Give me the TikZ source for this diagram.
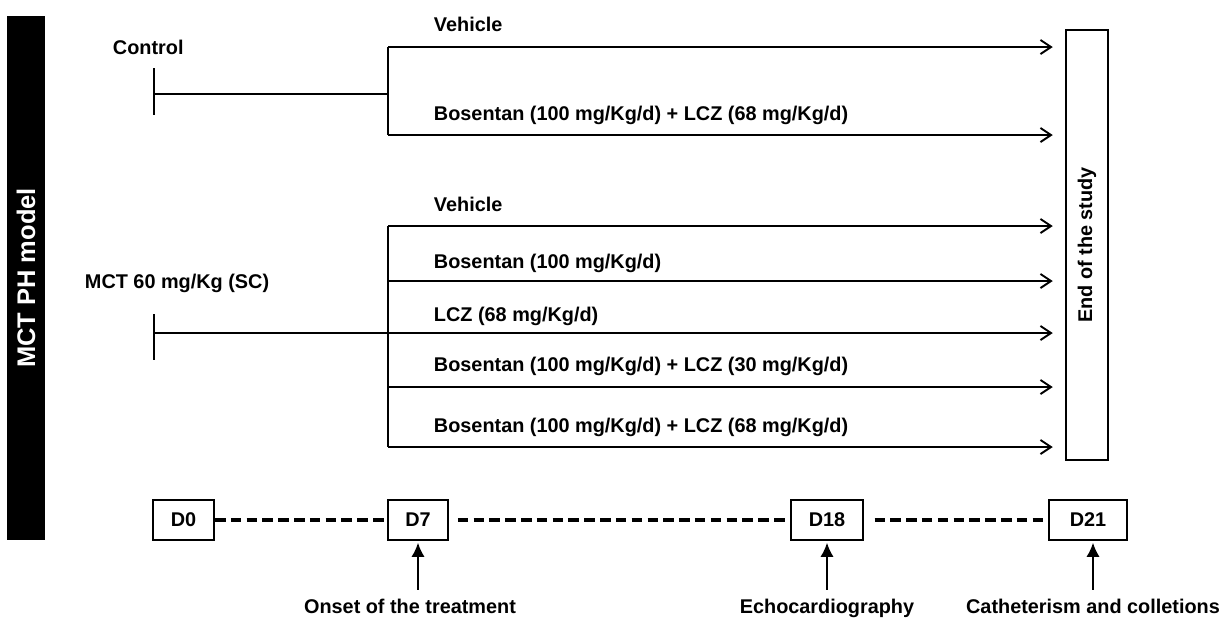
\documentclass[tikz,border=0pt]{standalone}
\usepackage{fontspec}
\setmainfont{Liberation Sans}
\usetikzlibrary{arrows.meta}
\tikzset{
  txt/.style={font=\fontsize{11.3}{13}\selectfont\bfseries,inner sep=0pt},
  lbl/.style={txt,anchor=base west},
  daybox/.style={txt,draw,line width=1.1pt,minimum height=0.8cm},
  arm/.style={line width=1.1pt,-{Straight Barb[length=6pt,width=8pt]}},
  upar/.style={line width=1.1pt,-{Latex[length=8pt,width=7.5pt]}},
  tline/.style={line width=2pt,dash pattern=on 6pt off 3pt},
}
\begin{document}
\begin{tikzpicture}[x=0.02cm,y=-0.02cm,line width=1.1pt]
\useasboundingbox (0,0) rectangle (1224,619);
% side bar and end box
\node[fill=black,text=white,rotate=90,minimum width=10.48cm,minimum height=0.76cm,inner sep=0pt,font=\fontsize{14.5}{16}\selectfont\bfseries] (model) at (26,278) {MCT PH model};
\node[txt,draw,rotate=90,minimum width=8.6cm,minimum height=0.84cm] (end) at (1087,245) {End of the study};
% control group
\node[lbl] (ctl) at (112,54) {Control};
\coordinate (c0) at (154,94);
\coordinate (c1) at (388,94);
\draw (154,68) -- (154,115);
\draw (c0) -- (c1);
\draw (388,47) -- (388,135);
\foreach \i/\y/\b/\t in {1/47/31/Vehicle,2/135/120/{Bosentan (100 mg/Kg/d) + LCZ (68 mg/Kg/d)}} {
  \coordinate (ca\i) at (388,\y);
  \draw[arm,shorten >=7pt] (ca\i) -- (ca\i -| end.north);
  \node[lbl] (cl\i) at (433,\b) {\t};
}
% MCT group
\node[lbl] (mct) at (84,288) {MCT 60 mg/Kg (SC)};
\coordinate (m0) at (154,333);
\coordinate (m1) at (388,333);
\draw (154,314) -- (154,360);
\draw (m0) -- (m1);
\draw (388,226) -- (388,447);
\foreach \i/\y/\b/\t in {1/226/211/Vehicle,2/281/268/{Bosentan (100 mg/Kg/d)},3/333/321/{LCZ (68 mg/Kg/d)},
  4/387/371/{Bosentan (100 mg/Kg/d) + LCZ (30 mg/Kg/d)},5/447/432/{Bosentan (100 mg/Kg/d) + LCZ (68 mg/Kg/d)}} {
  \coordinate (ma\i) at (388,\y);
  \draw[arm,shorten >=7pt] (ma\i) -- (ma\i -| end.north);
  \node[lbl] (ml\i) at (433,\b) {\t};
}
% timeline
\node[daybox,minimum width=1.22cm] (d0) at (183.5,520) {D0};
\node[daybox,minimum width=1.2cm] (d7) at (418,520) {D7};
\node[daybox,minimum width=1.44cm] (d18) at (827,520) {D18};
\node[daybox,minimum width=1.56cm] (d21) at (1088,520) {D21};
\draw[tline] (d0) -- (d7);
\draw[tline,shorten <=5pt,shorten >=3pt] (d7) -- (d18);
\draw[tline,shorten <=6pt,shorten >=1pt] (d18) -- (d21);
\node[txt,anchor=base] (on) at (410,613) {Onset of the treatment};
\node[txt,anchor=base] (echo) at (827,613) {Echocardiography};
\node[txt,anchor=base] (cath) at (1093,613) {Catheterism and colletions};
\draw[upar,shorten <=0.16cm,shorten >=1pt] (d7.south |- on.north) -- (d7.south);
\draw[upar,shorten <=0.16cm,shorten >=1pt] (echo.north) -- (echo.north |- d18.south);
\draw[upar,shorten <=0.16cm,shorten >=1pt] (cath.north) -- (cath.north |- d21.south);
\end{tikzpicture}
\end{document}
